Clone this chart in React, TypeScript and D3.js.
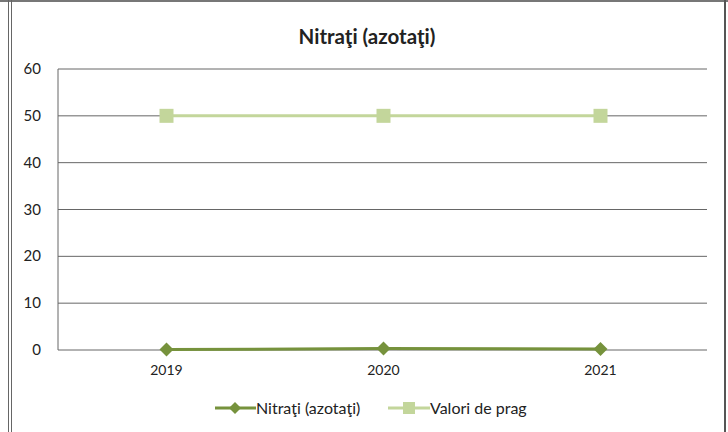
import React from "react";
import * as d3 from "d3";

const categories = ["2019", "2020", "2021"];
const nitrati = [0.1, 0.3, 0.2];
const prag = [50, 50, 50];
const yTicks = [0, 10, 20, 30, 40, 50, 60];
const title = "Nitraţi (azotaţi)";
const seriesNames = ["Nitraţi (azotaţi)", "Valori de prag"];

const W = 728, H = 432;
const M = { left: 58, right: 709, top: 69, bottom: 350 };
const C1 = "#76923c";
const C2 = "#c3d69b";
const FONT = "Lato, 'Open Sans', sans-serif";

export default function App() {
  const x = d3.scaleBand().domain(categories).range([M.left, M.right]);
  const cx = (c: string) => (x(c) as number) + x.bandwidth() / 2;
  const y = d3.scaleLinear().domain([0, 60]).range([M.bottom, M.top]);
  const line = d3.line<number>().x((_, i) => cx(categories[i])).y((d) => y(d));
  const diamond = (px: number, py: number, r: number) =>
    `M${px},${py - r}L${px + r},${py}L${px},${py + r}L${px - r},${py}Z`;

  return (
    <svg width={W} height={H} style={{ position: "absolute", left: 0, top: 0, background: "#fff" }} fontFamily={FONT}>
      <rect x={0} y={0} width={W} height={H} fill="#fff" />
      {/* border */}
      <line x1={0} x2={W} y1={1} y2={1} stroke="#777" strokeWidth={2} />
      <line x1={8.5} x2={8.5} y1={0} y2={H} stroke="#666" strokeWidth={1} />
      <line x1={11.5} x2={11.5} y1={0} y2={H} stroke="#666" strokeWidth={1} />
      <line x1={725} x2={725} y1={0} y2={H} stroke="#555" strokeWidth={2} />

      <text x={367} y={44} textAnchor="middle" fontSize={20.5} fontWeight="bold" fill="#222">{title}</text>

      {yTicks.map((t) => (
        <g key={t}>
          <line x1={M.left} x2={M.right - 2} y1={y(t)} y2={y(t)} stroke="#666" strokeWidth={1} />
          <text x={41} y={y(t) + 5} textAnchor="end" fontSize={15} fill="#222">{t}</text>
        </g>
      ))}
      <line x1={M.left} x2={M.left} y1={M.top} y2={M.bottom} stroke="#666" strokeWidth={1} />

      {categories.map((c) => (
        <text key={c} x={cx(c)} y={375} textAnchor="middle" fontSize={14} fill="#222">{c}</text>
      ))}

      <path d={line(prag) || ""} fill="none" stroke={C2} strokeWidth={3} />
      {prag.map((v, i) => (
        <rect key={i} x={cx(categories[i]) - 7} y={y(v) - 7} width={14} height={14} fill={C2} />
      ))}
      <path d={line(nitrati) || ""} fill="none" stroke={C1} strokeWidth={3} />
      {nitrati.map((v, i) => (
        <path key={i} d={diamond(cx(categories[i]), y(v), 7)} fill={C1} />
      ))}

      {/* legend */}
      <line x1={215} x2={256} y1={408} y2={408} stroke={C1} strokeWidth={3} />
      <path d={diamond(235, 408, 6)} fill={C1} />
      <text x={256} y={414} fontSize={16} fill="#222">{seriesNames[0]}</text>
      <line x1={388} x2={430} y1={408} y2={408} stroke={C2} strokeWidth={3} />
      <rect x={403} y={402} width={12} height={12} fill={C2} />
      <text x={430} y={414} fontSize={16} fill="#222">{seriesNames[1]}</text>
    </svg>
  );
}
